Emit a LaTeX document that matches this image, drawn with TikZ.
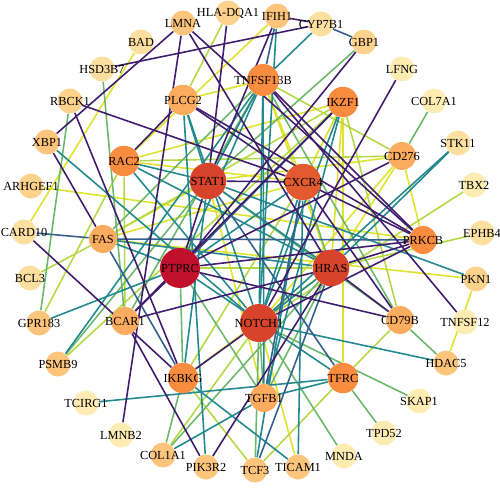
\documentclass[tikz,border=0pt]{standalone}
\usepackage{fontspec}
\setmainfont{Liberation Serif}
\usetikzlibrary{positioning}
\pgfdeclarelayer{edges}
\pgfsetlayers{edges,main}

% node fills, pale to dark
\definecolor{nA}{HTML}{FEECB2}
\definecolor{nB}{HTML}{FDE0A0}
\definecolor{nC}{HTML}{FDD28C}
\definecolor{nD}{HTML}{FDC47C}
\definecolor{nE}{HTML}{FCAC5E}
\definecolor{nF}{HTML}{F98C3E}
\definecolor{nG}{HTML}{E35A30}
\definecolor{nH}{HTML}{D8432B}
\definecolor{nI}{HTML}{C0102C}
% edge colours
\definecolor{eP}{HTML}{3F1D6C}
\definecolor{eB}{HTML}{34608D}
\definecolor{eT}{HTML}{23898E}
\definecolor{eG}{HTML}{6CB86A}
\definecolor{eY}{HTML}{B5D946}
\definecolor{eL}{HTML}{DFE32D}

\begin{document}
\begin{tikzpicture}[x=0.02cm, y=-0.02cm,
    every label/.style={font=\fontsize{7}{8}\selectfont, inner sep=0pt},
    gene/.style={circle, inner sep=0pt, minimum size=5mm},
    midgene/.style={gene, minimum size=5.6mm},
    hubgene/.style={gene, minimum size=6.1mm},
    biggene/.style={gene, minimum size=7.3mm},
    link/.style={line width=0.9pt}]
    \useasboundingbox (0,0) rectangle (500,490);

    % Outer ring
    \node [gene, fill=nD, label=center:LMNA] (lmna) at (183,23) {};
    \node [gene, fill=nC, label=center:HLA-DQA1] (hla) at (228,13) {};
    \node [gene, fill=nD, label=center:IFIH1] (ifih1) at (277,16) {};
    \node [gene, fill=nB, label=center:CYP7B1] (cyp7b1) at (321,24) {};
    \node [gene, fill=nC, label=center:GBP1] (gbp1) at (364,42) {};
    \node [gene, fill=nA, label=center:LFNG] (lfng) at (402,69) {};
    \node [gene, fill=nA, label=center:COL7A1] (col7a1) at (434,101) {};
    \node [gene, fill=nB, label=center:STK11] (stk11) at (458,143) {};
    \node [gene, fill=nA, label=center:TBX2] (tbx2) at (474,185) {};
    \node [gene, fill=nB, label=center:EPHB4] (ephb4) at (482,233) {};
    \node [gene, fill=nC, label=center:PKN1] (pkn1) at (476,279) {};
    \node [gene, fill=nA, label=center:TNFSF12] (tnfsf12) at (465,322) {};
    \node [gene, fill=nD, label=center:HDAC5] (hdac5) at (446,363) {};
    \node [gene, fill=nA, label=center:SKAP1] (skap1) at (419,401) {};
    \node [gene, fill=nA, label=center:TPD52] (tpd52) at (384,433) {};
    \node [gene, fill=nA, label=center:MNDA] (mnda) at (344,456) {};
    \node [gene, fill=nD, label=center:TICAM1] (ticam1) at (298,467) {};
    \node [gene, fill=nD, label=center:TCF3] (tcf3) at (255,470) {};
    \node [gene, fill=nD, label=center:PIK3R2] (pik3r2) at (206,467) {};
    \node [gene, fill=nD, label=center:COL1A1] (col1a1) at (163,455) {};
    \node [gene, fill=nA, label=center:LMNB2] (lmnb2) at (121,435) {};
    \node [gene, fill=nA, label=center:TCIRG1] (tcirg1) at (86,403) {};
    \node [gene, fill=nD, label=center:PSMB9] (psmb9) at (58,364) {};
    \node [gene, fill=nD, label=center:GPR183] (gpr183) at (39,323) {};
    \node [gene, fill=nB, label=center:BCL3] (bcl3) at (30,278) {};
    \node [gene, fill=nB, label=center:CARD10] (card10) at (24,232) {};
    \node [gene, fill=nC, label=center:ARHGEF1] (arhgef1) at (31,186) {};
    \node [gene, fill=nD, label=center:XBP1] (xbp1) at (47,142) {};
    \node [gene, fill=nC, label=center:RBCK1] (rbck1) at (70,101) {};
    \node [gene, fill=nB, label=center:HSD3B7] (hsd3b7) at (102,69) {};
    \node [gene, fill=nB, label=center:BAD] (bad) at (141,42) {};

    % Inner genes
    \node [hubgene, fill=nE, label=center:PLCG2] (plcg2) at (183,100) {};
    \node [hubgene, fill=nF, minimum size=6.4mm, label=center:TNFSF13B] (tnfsf13b) at (263,80) {};
    \node [hubgene, fill=nF, label=center:IKZF1] (ikzf1) at (343,102) {};
    \node [midgene, fill=nE, label=center:CD276] (cd276) at (402,156) {};
    \node [hubgene, fill=nF, label=center:RAC2] (rac2) at (124,161) {};
    \node [biggene, fill=nH, label=center:STAT1] (stat1) at (208,181) {};
    \node [biggene, fill=nG, label=center:CXCR4] (cxcr4) at (303,182) {};
    \node [midgene, fill=nE, label=center:FAS] (fas) at (103,239) {};
    \node [biggene, fill=nI, minimum size=8mm, label=center:PTPRC] (ptprc) at (180,268) {};
    \node [biggene, fill=nH, label=center:HRAS] (hras) at (331,268) {};
    \node [midgene, fill=nF, label=center:PRKCB] (prkcb) at (423,240) {};
    \node [midgene, fill=nE, label=center:BCAR1] (bcar1) at (125,321) {};
    \node [biggene, fill=nH, minimum size=7.6mm, label=center:NOTCH1] (notch1) at (259,323) {};
    \node [midgene, fill=nE, label=center:CD79B] (cd79b) at (400,320) {};
    \node [hubgene, fill=nF, label=center:IKBKG] (ikbkg) at (183,378) {};
    \node [hubgene, fill=nF, label=center:TFRC] (tfrc) at (343,378) {};
    \node [midgene, fill=nE, label=center:TGFB1] (tgfb1) at (264,398) {};

    \begin{pgfonlayer}{edges}
    % yellow
    \foreach \a/\b in {bad/card10, arhgef1/prkcb, plcg2/tnfsf13b, pkn1/hdac5, pkn1/fas,
        ticam1/notch1, tfrc/ikzf1, cd276/prkcb, cd276/stat1, fas/stat1, fas/cxcr4,
        rac2/cxcr4, ikzf1/cxcr4, ikzf1/hras, tnfsf13b/hras, tnfsf13b/cxcr4, ifih1/rac2,
        hras/ikbkg, cd276/hras, stat1/tgfb1, cd276/notch1, ikzf1/rac2}
        \draw [link, eL] (\a) -- (\b);
    % yellow-green
    \foreach \a/\b in {hla/plcg2, col1a1/notch1, tfrc/cd79b, rac2/bcar1, cd276/rac2,
        tbx2/notch1, ephb4/hras, hras/ptprc, ikzf1/fas, tnfsf13b/cd276, tcf3/tfrc,
        psmb9/ikzf1, bcl3/fas, ikbkg/tcf3, cd79b/ikzf1, gpr183/rac2, ikbkg/cxcr4}
        \draw [link, eY] (\a) -- (\b);
    % green
    \foreach \a/\b in {hsd3b7/bcar1, gpr183/rbck1, psmb9/stat1, col1a1/hras, col1a1/ikbkg,
        tcf3/notch1, mnda/notch1, tpd52/tfrc, skap1/notch1, cd79b/hdac5, col7a1/cd276,
        tgfb1/notch1, hras/cxcr4, hras/tgfb1, cd79b/stat1, tnfsf13b/fas, tnfsf13b/bcar1,
        gbp1/stat1, ptprc/tgfb1, ptprc/ikbkg, cd79b/tnfsf13b}
        \draw [link, eG] (\a) -- (\b);
    % teal
    \foreach \a/\b in {xbp1/notch1, cyp7b1/tnfsf13b, stk11/notch1, stk11/hras, gpr183/ptprc,
        psmb9/tnfsf13b, tcirg1/tfrc, col1a1/tgfb1, pik3r2/plcg2, ticam1/cxcr4,
        ticam1/ikbkg, hdac5/notch1, tfrc/ptprc, tfrc/tgfb1, rac2/stat1, rac2/notch1,
        rac2/hras, fas/hras, fas/ptprc, pkn1/stat1, ifih1/notch1, tnfsf13b/ptprc,
        tnfsf13b/notch1, tnfsf13b/tgfb1, ikzf1/notch1, ikzf1/tgfb1, notch1/hras,
        notch1/cxcr4, stat1/hras, plcg2/notch1, plcg2/stat1, stat1/ikbkg, tcf3/cxcr4,
        ptprc/cxcr4, tnfsf13b/stat1}
        \draw [link, eT] (\a) -- (\b);
    % blue
    \foreach \a/\b in {card10/fas, fas/prkcb, cyp7b1/gbp1, ifih1/tnfsf13b, tcf3/hras,
        ikzf1/ptprc, tfrc/stat1, tgfb1/cxcr4, fas/ikbkg}
        \draw [link, eB] (\a) -- (\b);
    % purple
    \foreach \a/\b in {lmna/xbp1, lmna/lmnb2, lmna/hras, lmna/prkcb, hla/stat1,
        hsd3b7/cyp7b1, ifih1/cyp7b1, ifih1/stat1, rbck1/cxcr4, rbck1/ikbkg, xbp1/fas,
        plcg2/rac2, plcg2/prkcb, plcg2/cxcr4, gbp1/ptprc, lfng/notch1, tnfsf13b/prkcb,
        tnfsf12/tnfsf13b, card10/ikbkg, pik3r2/bcar1, pik3r2/hras, bcar1/ptprc,
        bcar1/hras, ptprc/cd79b, ptprc/cd276, ptprc/stat1, stat1/cxcr4, cxcr4/cd79b,
        cxcr4/prkcb, hras/prkcb, notch1/prkcb, hras/cd79b, ikzf1/bcar1, ikbkg/notch1,
        ptprc/prkcb}
        \draw [link, eP] (\a) -- (\b);
    \end{pgfonlayer}
\end{tikzpicture}
\end{document}
